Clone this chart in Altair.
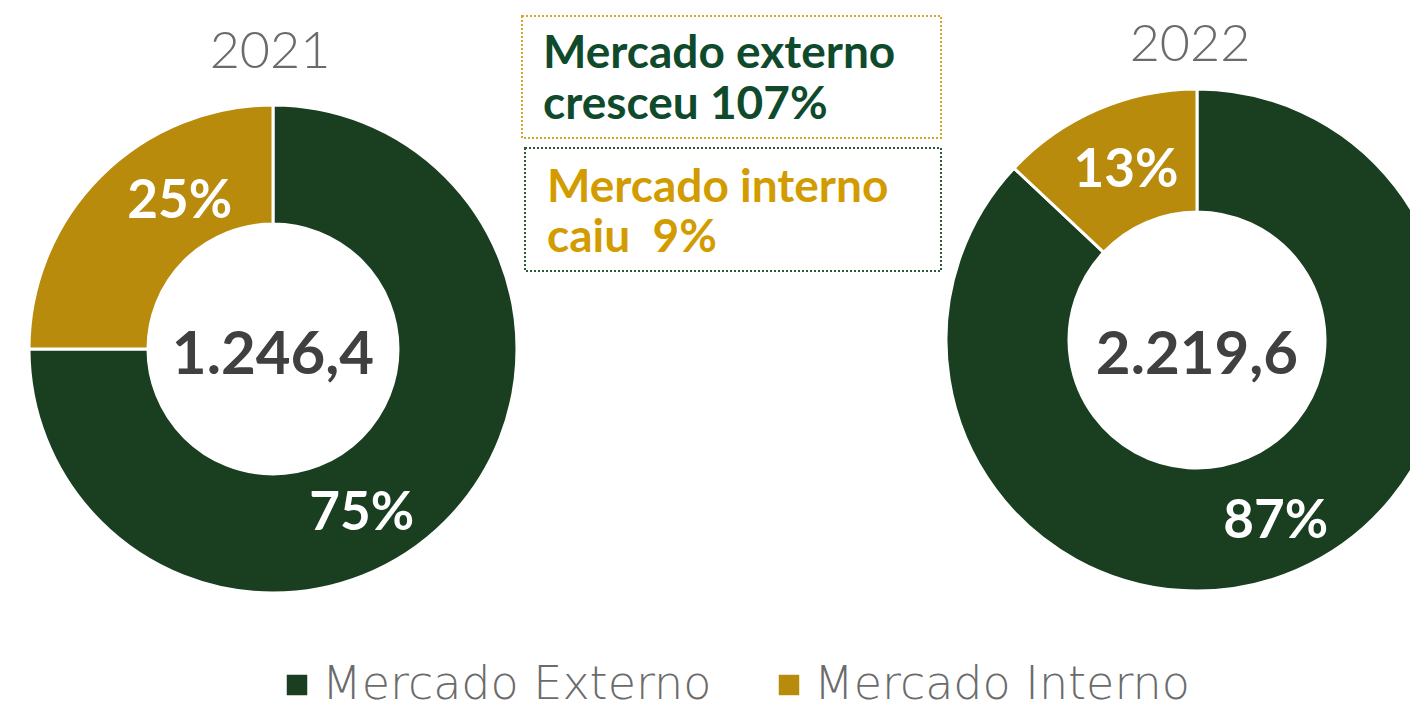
import altair as alt
import pandas as pd

# ---- data ----
years = ["2021", "2021", "2022", "2022"]
categories = ["Mercado Externo", "Mercado Interno", "Mercado Externo", "Mercado Interno"]
shares = [75, 25, 87, 13]
orders = [1, 2, 1, 2]
pct_labels = ["75%", "25%", "87%", "13%"]

total_years = ["2021", "2022"]
totals = [1246.4, 2219.6]

box_ext_lines = ["Mercado externo", "cresceu 107%"]
box_int_lines = ["Mercado interno", "caiu \u00a09%"]

# ---- styles ----
GREEN = "#1a3e20"
GOLD = "#b98b0d"
FONT = "Lato"
LEGEND_FONT = "DejaVu Sans"

df = pd.DataFrame({"year": years, "category": categories, "share": shares,
                   "ord": orders, "label": pct_labels})
tot = pd.DataFrame({"year": total_years, "total": totals})

base = alt.Chart(df)
one = alt.Chart(alt.Data(values=[{"a": 1}]))

color = alt.Color(
    "category:N",
    scale=alt.Scale(domain=["Mercado Externo", "Mercado Interno"], range=[GREEN, GOLD]),
    legend=alt.Legend(
        title=None, orient="none", direction="horizontal",
        legendX=266, legendY=654,
        symbolType="square", symbolSize=420, symbolStrokeWidth=0,
        labelFont=LEGEND_FONT, labelFontSize=46, labelFontWeight=200,
        labelColor="#6b6b6b", labelLimit=0, labelOffset=2,
        columnPadding=54, padding=0,
    ),
)
theta_scale = alt.Scale(domain=[0, 100])


def donut(year, cx, cy, R, r):
    return base.transform_filter(alt.datum.year == year).mark_arc(
        outerRadius=R, innerRadius=r, stroke="white", strokeWidth=3
    ).encode(
        theta=alt.Theta("share:Q", stack=True, scale=theta_scale),
        color=color,
        order=alt.Order("ord:Q"),
        x=alt.value(cx), y=alt.value(cy),
    )


def pct(year, cat, cx, cy, radius, dx=0, dy=0):
    return base.transform_window(
        cum="sum(share)", groupby=["year"], sort=[alt.SortField("ord")], frame=[None, 0]
    ).transform_calculate(
        mid="datum.cum - datum.share / 2"
    ).transform_filter(
        (alt.datum.year == year) & (alt.datum.category == cat)
    ).mark_text(
        font=FONT, fontSize=53, fontWeight="bold", color="white",
        align="center", baseline="middle", dx=dx, dy=dy,
    ).encode(
        theta=alt.Theta("mid:Q", scale=theta_scale),
        radius=alt.value(radius),
        text="label:N",
        x=alt.value(cx), y=alt.value(cy),
    )


def total(year, cx, cy):
    return alt.Chart(tot).transform_filter(alt.datum.year == year).mark_text(
        font=FONT, fontSize=60, fontWeight="bold", color="#404040",
        align="center", baseline="middle",
    ).encode(
        text=alt.Text("total:Q", format=",.1f"),
        x=alt.value(cx), y=alt.value(cy),
    )


def title(txt, cx, cy):
    return one.mark_text(
        text=txt, font=FONT, fontSize=52, fontWeight=300, color="#6b6b6b",
        align="center", baseline="middle",
    ).encode(x=alt.value(cx), y=alt.value(cy))


def box(x1, x2, y1, y2, stroke):
    return one.mark_rect(
        fill="white", fillOpacity=0, stroke=stroke, strokeWidth=2, strokeDash=[2, 2]
    ).encode(x=alt.value(x1), x2=alt.value(x2), y=alt.value(y1), y2=alt.value(y2))


def box_text(lines, x, y, col, lh):
    return one.mark_text(
        text=lines, font=FONT, fontSize=46, fontWeight="bold", color=col,
        align="left", baseline="alphabetic", lineHeight=lh,
    ).encode(x=alt.value(x), y=alt.value(y))


layers = [
    donut("2021", 265, 341, 244, 125),
    donut("2022", 1189, 332, 251, 128),
    pct("2021", "Mercado Interno", 265, 341, 180, dx=34, dy=-20),
    pct("2021", "Mercado Externo", 265, 341, 185, dx=-42, dy=34),
    pct("2022", "Mercado Interno", 1189, 332, 184, dx=2),
    pct("2022", "Mercado Externo", 1189, 332, 198),
    total("2021", 265, 348),
    total("2022", 1189, 348),
    title("2021", 262, 44),
    title("2022", 1182, 37),
    box(514, 933, 8, 130, "#d6a52c"),
    box(517, 933, 140, 263, "#2a5a3a"),
    box_text(box_ext_lines, 535, 60, "#0f4a2c", 51),
    box_text(box_int_lines, 539, 194, "#d29c00", 50),
]

chart = alt.layer(*layers).properties(
    width=1402, height=702, autosize=alt.AutoSizeParams(type="none"), padding=0
).configure(
    locale={"number": {"decimal": ",", "thousands": ".", "grouping": [3],
                       "currency": ["R$", ""]}}
).configure_view(stroke=None)

chart.save("out.html", embed_options={"renderer": "svg", "actions": False})
